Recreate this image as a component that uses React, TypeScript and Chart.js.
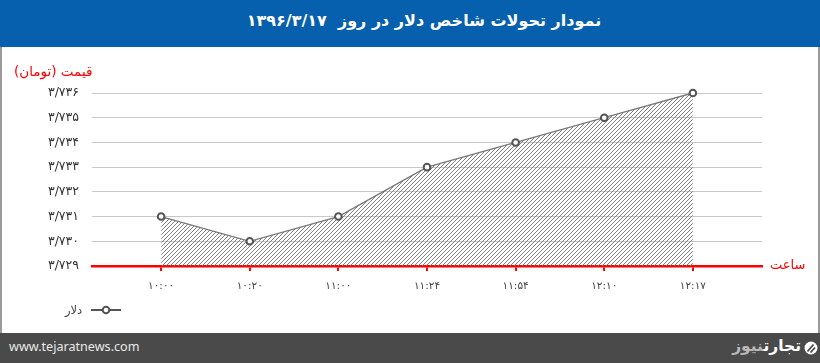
import React, { useEffect, useRef } from "react";
import { Chart, registerables } from "chart.js";

Chart.register(...registerables);

const titleText = "نمودار تحولات شاخص دلار در روز\u00a0\u00a0۱۳۹۶/۳/۱۷";
const categories = ["۱۰:۰۰", "۱۰:۲۰", "۱۱:۰۰", "۱۱:۲۴", "۱۱:۵۴", "۱۲:۱۰", "۱۲:۱۷"];
const dollarValues = [3731, 3730, 3731, 3733, 3734, 3735, 3736];
const yTickValues = [3729, 3730, 3731, 3732, 3733, 3734, 3735, 3736];
const yTickLabels = ["۳/۷۲۹", "۳/۷۳۰", "۳/۷۳۱", "۳/۷۳۲", "۳/۷۳۳", "۳/۷۳۴", "۳/۷۳۵", "۳/۷۳۶"];
const seriesName = "دلار";
const yAxisTitle = "قیمت (تومان)";
const xAxisTitle = "ساعت";

const FA = "'DejaVu Sans', sans-serif";

function makeHatch(): CanvasPattern | string {
  const c = document.createElement("canvas");
  c.width = 4;
  c.height = 4;
  const g = c.getContext("2d");
  if (!g) return "#bbb";
  g.strokeStyle = "#808080";
  g.lineWidth = 1;
  g.beginPath();
  g.moveTo(0, 4);
  g.lineTo(4, 0);
  g.moveTo(-1, 1);
  g.lineTo(1, -1);
  g.moveTo(3, 5);
  g.lineTo(5, 3);
  g.stroke();
  const p = g.createPattern(c, "repeat");
  return p || "#bbb";
}

export default function App() {
  const ref = useRef<HTMLCanvasElement | null>(null);

  useEffect(() => {
    document.body.style.margin = "0";
    const canvas = ref.current;
    if (!canvas) return;
    const hatch = makeHatch();
    const chart = new Chart(canvas, {
      type: "line",
      data: {
        datasets: [
          {
            label: seriesName,
            data: dollarValues.map((v, i) => ({ x: i, y: v })),
            borderColor: "#7a7a7a",
            borderWidth: 1.3,
            backgroundColor: hatch as any,
            fill: "start",
            tension: 0,
            pointRadius: 3.3,
            pointBorderWidth: 2,
            pointBorderColor: "#555",
            pointBackgroundColor: "#fff",
            clip: false as any,
          },
        ],
      },
      options: {
        responsive: false,
        animation: false,
        devicePixelRatio: 1,
        layout: { padding: { top: 93, right: 58, left: 0, bottom: 0 } },
        plugins: { legend: { display: false }, tooltip: { enabled: false } },
        scales: {
          x: {
            type: "linear",
            min: -0.78,
            max: 6.78,
            afterFit: (s: any) => {
              s.height = 97;
            },
            afterBuildTicks: (s: any) => {
              s.ticks = categories.map((_, i) => ({ value: i }));
            },
            grid: {
              drawOnChartArea: false,
              drawTicks: true,
              tickLength: 5,
              color: "#ff0000",
              lineWidth: 2,
            },
            border: { display: true, color: "#ff0000", width: 2.5 },
            ticks: {
              autoSkip: false,
              maxRotation: 0,
              padding: 9,
              color: "#444",
              font: { family: FA, size: 10.5 },
              callback: (v: any) => categories[Math.round(Number(v))] ?? "",
            },
          },
          y: {
            min: 3729,
            max: 3736,
            afterFit: (s: any) => {
              s.width = 92;
            },
            afterBuildTicks: (s: any) => {
              s.ticks = yTickValues.map((v) => ({ value: v }));
            },
            grid: { color: "#c8c8c8", lineWidth: 1, drawTicks: false },
            border: { display: false },
            ticks: {
              padding: 13,
              color: "#333",
              font: { family: FA, size: 12.5 },
              callback: (v: any) => {
                const i = yTickValues.indexOf(Number(v));
                return i >= 0 ? yTickLabels[i] : "";
              },
            },
          },
        },
      },
    });
    return () => chart.destroy();
  }, []);

  return (
    <div style={{ position: "fixed", left: 0, top: 0, width: 820, height: 363, background: "#fff", overflow: "hidden" }}>
      <div style={{ position: "absolute", left: 0, top: 47, width: 820, height: 286, borderLeft: "2px solid #9a9a9a", borderRight: "2px solid #9a9a9a", boxSizing: "border-box" }} />
      <canvas ref={ref} width={820} height={363} style={{ position: "absolute", left: 0, top: 0, width: 820, height: 363 }} />
      <div
        style={{
          position: "absolute",
          left: 0,
          top: 0,
          width: 820,
          height: 47,
          background: "#0760ad",
          color: "#fff",
          fontFamily: FA,
          fontWeight: "bold",
          fontSize: 16,
          lineHeight: "42px",
          textAlign: "center",
          direction: "rtl",
        }}
      >
        <span style={{ position: "relative", left: 14 }}>{titleText}</span>
      </div>
      <div style={{ position: "absolute", left: 14, top: 62, fontFamily: FA, fontSize: 13.5, color: "#ff0000", direction: "rtl", lineHeight: "18px" }}>
        {yAxisTitle}
      </div>
      <div style={{ position: "absolute", left: 770, top: 256, fontFamily: FA, fontSize: 13, color: "#ff0000", direction: "rtl", lineHeight: "18px" }}>
        {xAxisTitle}
      </div>
      <div style={{ position: "absolute", left: 65, top: 301, fontFamily: FA, fontSize: 11.5, color: "#444", direction: "rtl", lineHeight: "18px" }}>
        {seriesName}
      </div>
      <svg style={{ position: "absolute", left: 90, top: 304 }} width={32} height={12}>
        <line x1={1} y1={6} x2={31} y2={6} stroke="#555" strokeWidth={2} />
        <circle cx={16} cy={6} r={3.3} fill="#fff" stroke="#555" strokeWidth={2} />
      </svg>
      <div style={{ position: "absolute", left: 0, top: 333, width: 820, height: 30, background: "#4a4a4a" }}>
        <div style={{ position: "absolute", left: 9, top: 5, fontFamily: "'Noto Sans', sans-serif", fontSize: 12.6, color: "#e8e8e8", lineHeight: "18px" }}>
          www.tejaratnews.com
        </div>
        <div style={{ position: "absolute", right: 19, top: 2, fontFamily: FA, fontWeight: "bold", fontSize: 15.5, direction: "rtl", lineHeight: "22px" }}>
          <span style={{ color: "#fff" }}>تجارت</span>
          <span style={{ color: "#b8b8b8" }}>نیوز</span>
        </div>
        <svg style={{ position: "absolute", left: 803, top: 5 }} width={17} height={20}>
          <circle cx={8} cy={10} r={6.5} fill="#fff" />
          <path d="M4.5 13.5 L10.5 6.5 M7.5 14.5 L12 9.5" stroke="#4a4a4a" strokeWidth={1.8} />
        </svg>
      </div>
    </div>
  );
}
